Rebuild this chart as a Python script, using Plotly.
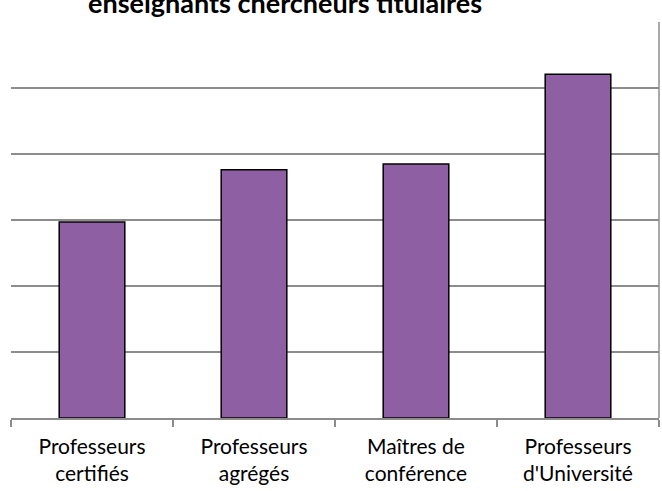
import plotly.graph_objects as go

# Categories (two-line tick labels) and values
categories = [
    "Professeurs<br>certifiés",
    "Professeurs<br>agrégés",
    "Maîtres de<br>conférence",
    "Professeurs<br>d'Université",
]
values = [29.7, 37.6, 38.5, 52.1]
title_text = "enseignants chercheurs titulaires"

W, H = 662, 491
M = dict(l=11, r=3, t=22, b=73)
plot_w = W - M["l"] - M["r"]

fig = go.Figure(
    go.Bar(
        x=categories,
        y=values,
        marker=dict(color="#8E5FA2", line=dict(color="#000000", width=1.5)),
        hoverinfo="x+y",
    )
)

fig.update_layout(
    width=W,
    height=H,
    margin=M,
    paper_bgcolor="white",
    plot_bgcolor="white",
    bargap=0.595,
    showlegend=False,
    font=dict(family="Lato", size=21, color="#000000"),
)

fig.update_xaxes(
    tickson="boundaries",
    ticks="outside",
    ticklen=7,
    tickwidth=1.5,
    tickcolor="#8C8C8C",
    showline=True,
    linecolor="#8C8C8C",
    linewidth=1.5,
    showgrid=False,
    ticklabelstandoff=9,
    tickfont=dict(family="Lato", size=21),
)

fig.update_yaxes(
    range=[0, 60],
    dtick=10,
    showticklabels=False,
    showgrid=True,
    gridcolor="#8C8C8C",
    gridwidth=1.5,
    zeroline=False,
    showline=False,
)

# right-hand border of the plot area
fig.add_shape(
    type="line", xref="paper", yref="paper",
    x0=1, x1=1, y0=0, y1=1,
    line=dict(color="#8C8C8C", width=1.5),
)

# chart title, bold, sitting at the very top edge
fig.add_annotation(
    text="<b>" + title_text + "</b>",
    xref="paper", yref="paper",
    x=(285 - M["l"]) / plot_w,
    y=1 + (22 - 21) / (H - M["t"] - M["b"]),
    xanchor="center", yanchor="bottom",
    showarrow=False,
    font=dict(family="Lato", size=27, color="#000000"),
)

fig.write_html("out.html")
